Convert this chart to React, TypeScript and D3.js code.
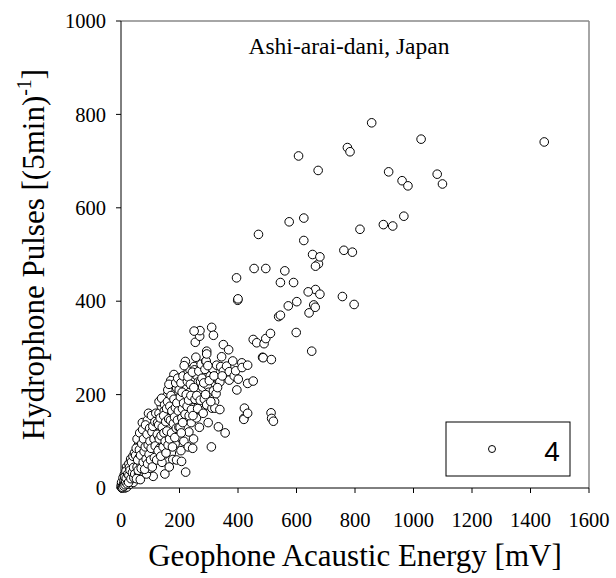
import React from "react";
import * as d3 from "d3";

const xTicks = [0, 200, 400, 600, 800, 1000, 1200, 1400, 1600];
const yTicks = [0, 200, 400, 600, 800, 1000];
const seriesName = "4";
const chartTitle = "Ashi-arai-dani, Japan";
const xTitle = "Geophone Acaustic Energy [mV]";

// Geophone energy [mV], hydrophone pulses [(5min)^-1]
const pointsLow: [number, number][] = [
  [2,1],[3,4],[5,2],[6,8],[8,5],[10,12],[4,10],[12,3],[14,18],[9,20],[15,10],[18,6],[20,25],[16,30],[22,14],[25,20],[7,15],[28,35],[30,22],[24,40],[11,28],[32,15],[35,30],[19,45],[38,48],[27,52],[40,25],[33,62],[1,3],[3,0],[13,0],[20,2],[30,8],[42,12],[45,38],[48,55],
  [1,6],[2,12],[4,3],[6,1],[7,22],[9,9],[10,4],[11,16],[13,24],[14,7],[16,13],[17,36],[18,21],[21,9],[23,30],[26,12],[27,27],[29,44],[31,38],[34,20],[36,56],[39,33],[41,68],[43,44],[44,22],[46,75],[47,30],
  [50,70],[55,45],[58,90],[60,30],[62,65],[65,100],[68,52],[70,80],[72,110],[75,35],[78,62],[80,95],[82,120],[85,48],[88,75],[90,105],[92,130],[95,58],[97,88],[100,115],[102,140],[105,70],[108,95],[110,25],[112,150],[115,80],[118,125],[120,100],[53,20],[66,18],[87,30],[100,42],[73,140],[111,151],[143,169],[90,145],[55,105],
  [52,85],[57,60],[59,38],[63,82],[64,118],[67,70],[69,42],[71,95],[74,125],[76,55],[77,105],[79,78],[81,40],[83,88],[84,135],[86,62],[89,115],[91,52],[93,92],[94,160],[96,72],[98,128],[99,100],[101,60],[103,85],[104,155],[106,120],[107,45],[109,132],[113,105],[114,65],[116,142],[117,90],[119,160],
  [122,60],[125,140],[128,110],[130,160],[132,85],[135,125],[138,175],[140,100],[142,145],[145,70],[148,165],[150,120],[152,185],[155,90],[158,140],[160,200],[162,110],[165,160],[168,130],[170,180],[172,75],[175,150],[177,61],[178,205],[180,120],[182,170],[185,95],[188,140],[190,215],[192,160],[195,200],[197,110],[200,180],[150,30],[165,45],[190,60],[207,57],[221,34],[181,243],[160,210],[170,230],[130,185],[140,55],[185,190],
  [124,115],[127,80],[129,135],[131,105],[134,150],[136,68],[137,112],[139,192],[141,130],[144,88],[146,155],[147,118],[149,178],[151,100],[153,142],[154,75],[156,170],[157,122],[159,185],[161,92],[163,148],[164,222],[166,105],[167,175],[169,145],[171,198],[173,118],[174,165],[176,88],[179,138],[181,190],[183,152],[184,108],[186,172],[187,225],[189,128],[191,182],[193,145],[194,235],[196,165],[198,130],[199,210],
  [202,130],[205,225],[208,150],[210,170],[212,240],[215,100],[218,190],[220,271],[222,145],[225,213],[227,228],[228,160],[230,250],[232,120],[235,205],[236,253],[238,175],[240,140],[242,230],[245,190],[248,105],[250,260],[251,253],[252,165],[254,312],[255,220],[258,150],[260,240],[263,210],[264,227],[265,180],[268,130],[269,325],[270,337],[272,228],[250,336],[275,200],[278,165],[279,216],[280,245],[205,80],[230,88],[245,85],
  [203,195],[206,118],[209,205],[211,140],[214,182],[216,262],[219,158],[223,200],[226,175],[229,238],[231,188],[233,155],[237,222],[239,198],[241,168],[244,248],[246,155],[249,215],[253,190],[256,280],[259,198],[262,170],[266,250],[271,188],[274,265],[277,235]
];

const pointsMid: [number, number][] = [
  [281,160],[285,190],[287,254],[290,271],[291,272],[293,178],[293,293],[293,287],[295,220],[298,140],[300,205],[305,240],[309,88],[310,344],[311,171],[314,255],[316,327],[316,208],[320,185],[321,171],[325,202],[327,263],[333,131],[335,228],[338,168],[338,227],[341,260],[344,281],[350,307],[350,250],[356,118],[361,261],[368,296],[370,249],[370,231],[382,272],[387,240],[392,251],[396,210],[399,402],[401,233],[413,268],[414,258],[420,149],[420,147],[422,171],[433,263],[433,224],[433,160],[452,229],[452,318],[464,311],[484,280],[486,279],[489,309],[495,320],[511,331],[513,161],[514,275],[515,149],[521,143],
  [283,225],[289,200],[297,262],[302,230],[307,185],[318,240],[330,215],[346,240]
];

const pointsHigh: [number, number][] = [
  [539,367],[545,370],[572,390],[599,333],[601,399],[643,375],[652,293],[659,392],[664,387],[757,410],[797,393],[762,509],[791,505],[817,554],[897,564],[929,561],[967,582],[915,677],[961,658],[981,647],[1081,672],[1099,651],[774,729],[783,720],[857,782],[1026,747],[1447,741],[607,711],[674,680],
  [470,543],[455,470],[495,470],[395,450],[400,405],[575,570],[625,578],[625,530],[655,500],[675,480],[680,495],[665,475],[545,440],[560,465],[665,425],[680,415],[640,420],[590,440]
];

const allPoints = [...pointsLow, ...pointsMid, ...pointsHigh];

const serif = "'Liberation Serif', 'Times New Roman', serif";
const sans = "'Liberation Sans', Arial, sans-serif";

export default function App() {
  const W = 616, H = 578;
  const left = 121, right = 589, top = 21, bottom = 488;
  const x = d3.scaleLinear().domain([0, 1600]).range([left, right]);
  const y = d3.scaleLinear().domain([0, 1000]).range([bottom, top]);

  return (
    <svg width={W} height={H} style={{ position: "absolute", left: 0, top: 0, background: "#fff" }}>
      <rect x={0} y={0} width={W} height={H} fill="#fff" />
      {/* frame */}
      <line x1={left} x2={right} y1={top} y2={top} stroke="#888" strokeWidth={1.5} />
      <line x1={right} x2={right} y1={top} y2={bottom} stroke="#888" strokeWidth={1.5} />
      <line x1={left} x2={left} y1={top} y2={bottom} stroke="#000" strokeWidth={1} />
      <line x1={left} x2={right} y1={bottom} y2={bottom} stroke="#000" strokeWidth={1} />
      {/* y ticks */}
      {yTicks.map((t) => (
        <g key={"y" + t}>
          <line x1={left - 5} x2={left} y1={y(t)} y2={y(t)} stroke="#000" />
          <text x={left - 15} y={y(t)} dy="0.35em" textAnchor="end" fontFamily={serif} fontSize={20.5}>{t}</text>
        </g>
      ))}
      {/* x ticks */}
      {xTicks.map((t) => (
        <g key={"x" + t}>
          <line x1={x(t)} x2={x(t)} y1={bottom} y2={bottom + 5} stroke="#000" />
          <text x={x(t)} y={527} textAnchor="middle" fontFamily={serif} fontSize={20.5}>{t}</text>
        </g>
      ))}
      {/* points */}
      {allPoints.map((p, i) => (
        <circle key={i} cx={x(p[0])} cy={y(p[1])} r={4.3} fill="#fff" stroke="#000" strokeWidth={1} />
      ))}
      {/* title */}
      <text x={349} y={54} textAnchor="middle" fontFamily={serif} fontSize={23.5}>{chartTitle}</text>
      {/* legend */}
      <rect x={446} y={422} width={124} height={54} fill="#fff" stroke="#000" strokeWidth={1} />
      <circle cx={492} cy={449} r={3.5} fill="#fff" stroke="#000" strokeWidth={1} />
      <text x={552} y={461} textAnchor="middle" fontFamily={sans} fontSize={28}>{seriesName}</text>
      {/* axis titles */}
      <text x={355} y={566} textAnchor="middle" fontFamily={serif} fontSize={31}>{xTitle}</text>
      <text transform={`translate(44, ${(top + bottom) / 2}) rotate(-90)`} textAnchor="middle" fontFamily={serif} fontSize={31}>
        Hydrophone Pulses [(5min)<tspan dy={-13} fontSize={20}>-1</tspan><tspan dy={13}>]</tspan>
      </text>
    </svg>
  );
}
